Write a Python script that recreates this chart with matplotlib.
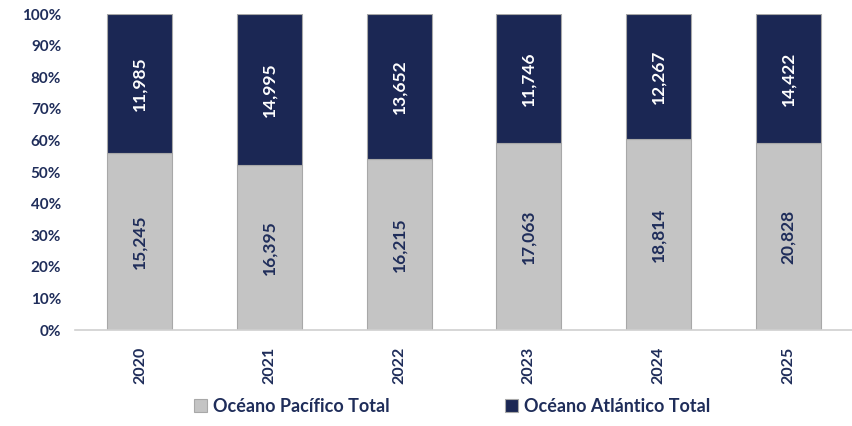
import numpy as np
import matplotlib
matplotlib.use("Agg")
import matplotlib.pyplot as plt
from matplotlib.ticker import PercentFormatter

plt.rcParams["font.family"] = ["Lato", "DejaVu Sans"]

years = ["2020", "2021", "2022", "2023", "2024", "2025"]
pacifico = np.array([15245, 16395, 16215, 17063, 18814, 20828])
atlantico = np.array([11985, 14995, 13652, 11746, 12267, 14422])

NAVY = "#1b2754"
GRAY = "#c4c4c4"
TXT = "#1f2d5a"

total = pacifico + atlantico
p_pac = pacifico / total * 100
p_atl = atlantico / total * 100

fig = plt.figure(figsize=(8.53, 4.26), dpi=100)
ax = fig.add_axes([0.088, 0.225, 0.912, 0.742])
x = np.arange(len(years))
ax.bar(x, p_pac, width=0.5, color=GRAY, edgecolor="#a8a8a8", lw=0.8,
       label="Océano Pacífico Total")
ax.bar(x, p_atl, width=0.5, bottom=p_pac, color=NAVY, edgecolor="#a8a8a8", lw=0.8,
       label="Océano Atlántico Total")

for i in range(len(years)):
    ax.text(x[i], p_pac[i] / 2, f"{pacifico[i]:,}", rotation=90, ha="center",
            va="center", fontsize=12.5, color=TXT, fontweight="bold")
    ax.text(x[i], p_pac[i] + p_atl[i] / 2, f"{atlantico[i]:,}", rotation=90,
            ha="center", va="center", fontsize=12.5, color="white", fontweight="bold")

ax.set_xlim(-0.5, len(years) - 0.5)
ax.set_ylim(0, 100)
ax.set_yticks(np.arange(0, 101, 10))
ax.yaxis.set_major_formatter(PercentFormatter(decimals=0))
ax.set_xticks(x)
ax.set_xticklabels(years, rotation=90)
for lab in ax.get_xticklabels() + ax.get_yticklabels():
    lab.set_fontweight("bold")
    lab.set_color(TXT)
    lab.set_fontsize(11.5)
for lab in ax.get_yticklabels():
    lab.set_fontsize(11)
ax.tick_params(length=0, pad=10)
ax.tick_params(axis="x", pad=12)
for s in ["top", "right", "left"]:
    ax.spines[s].set_visible(False)
ax.spines["bottom"].set_color("#d0d0d0")
ax.spines["bottom"].set_linewidth(1.2)

leg = fig.legend(loc="lower center", bbox_to_anchor=(0.53, -0.012), ncol=2, frameon=False,
                 handlelength=0.7, handleheight=0.7, handletextpad=0.35, columnspacing=6.4,
                 prop={"weight": "bold", "size": 13})
for t in leg.get_texts():
    t.set_color(TXT)

fig.savefig("out.png", dpi=100)
